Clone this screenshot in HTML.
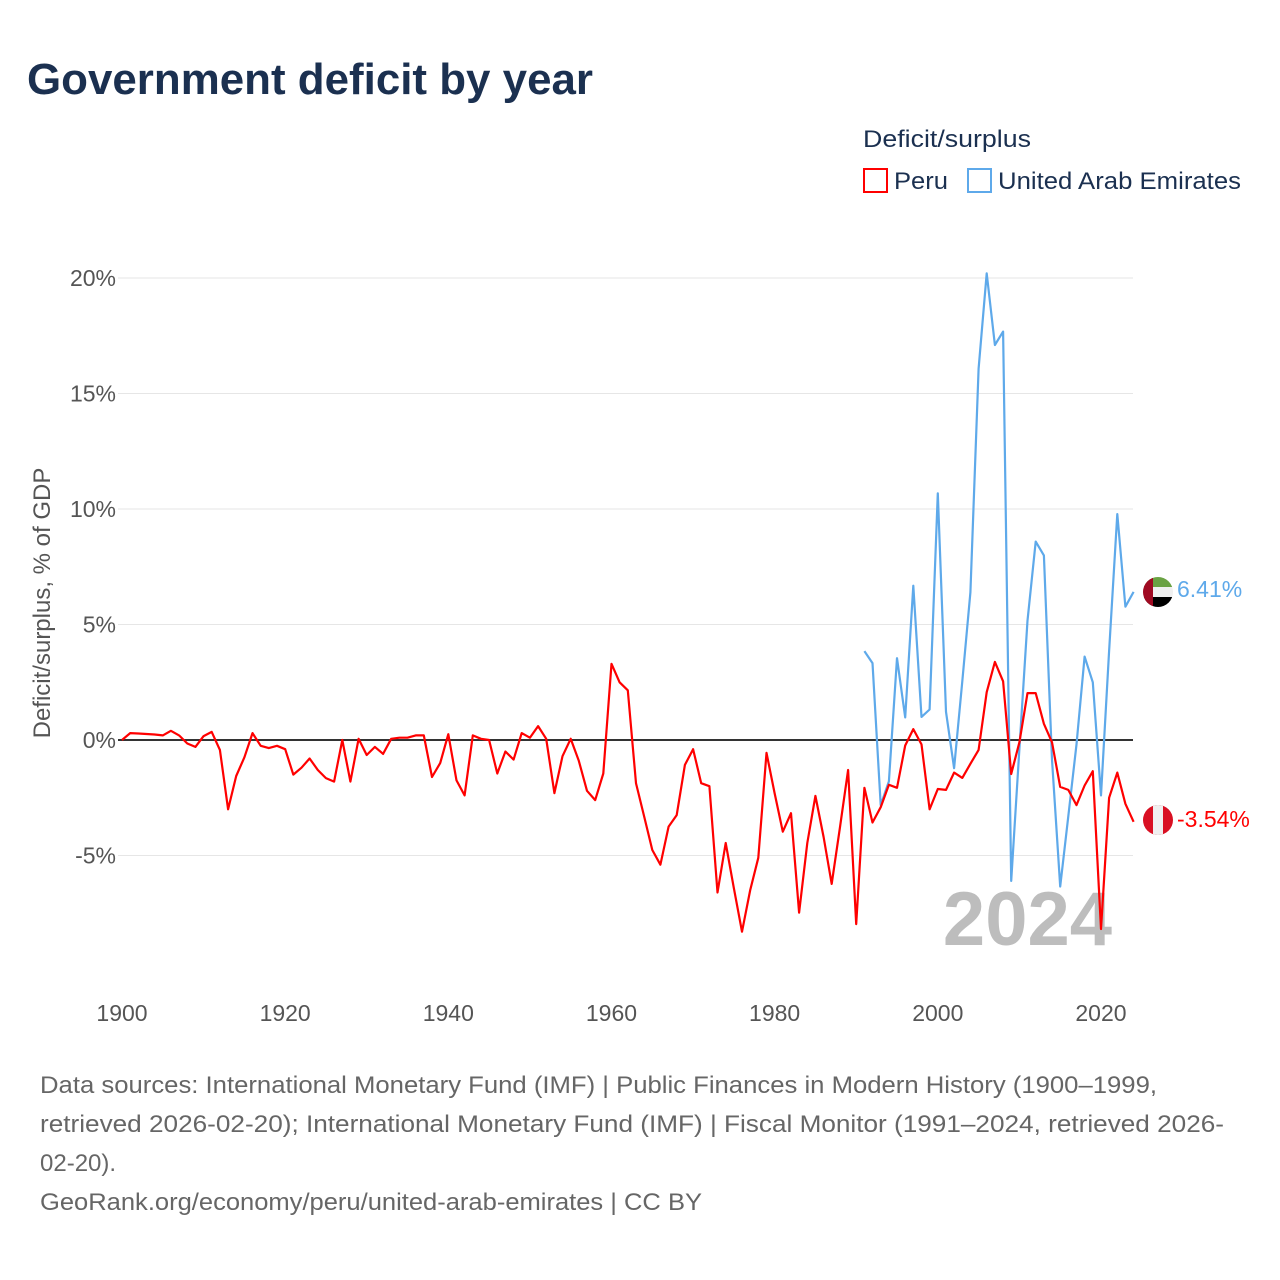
<!DOCTYPE html>
<html><head><meta charset="utf-8"><style>
html,body{margin:0;padding:0;background:#fff}
svg{display:block;font-family:"Liberation Sans",sans-serif}
</style></head><body>
<svg id="chart" width="1280" height="1280" viewBox="0 0 1280 1280">
<text x="27" y="94" font-size="44" font-weight="bold" fill="#1b3050" textLength="566" lengthAdjust="spacingAndGlyphs">Government deficit by year</text>
<text x="863" y="147" font-size="24" fill="#1b3050" textLength="168" lengthAdjust="spacingAndGlyphs">Deficit/surplus</text>
<g><rect x="864" y="169" width="23" height="23" fill="#fff" stroke="#ff0000" stroke-width="2"/><text x="894" y="189" font-size="24" fill="#1b3050" textLength="54" lengthAdjust="spacingAndGlyphs">Peru</text></g>
<g><rect x="968" y="169" width="23" height="23" fill="#fff" stroke="#5ea9ea" stroke-width="2"/><text x="998" y="189" font-size="24" fill="#1b3050" textLength="243" lengthAdjust="spacingAndGlyphs">United Arab Emirates</text></g>
<g id="grid"></g>
<g id="yticks"></g>
<g id="xticks"></g>
<text transform="translate(50,603) rotate(-90)" text-anchor="middle" font-size="24" fill="#555">Deficit/surplus, % of GDP</text>
<text x="1112" y="945" text-anchor="end" font-size="76" font-weight="bold" fill="#bdbdbd">2024</text>
<g id="series"></g>
<g>
<clipPath id="c1"><circle cx="1158" cy="592" r="15"/></clipPath>
<g clip-path="url(#c1)"><rect x="1143" y="577" width="30" height="10" fill="#6aa243"/><rect x="1143" y="587" width="30" height="10" fill="#f0f0f0"/><rect x="1143" y="597" width="30" height="10" fill="#000"/><rect x="1143" y="577" width="10" height="30" fill="#a00a22"/></g></g>
<g>
<clipPath id="c2"><circle cx="1158" cy="820" r="15"/></clipPath>
<g clip-path="url(#c2)"><rect x="1143" y="805" width="30" height="30" fill="#d91023"/><rect x="1153" y="805" width="10" height="30" fill="#f0f0f0"/></g></g>
<text id="uaeLabel" x="1177" y="597" font-size="23" fill="#5ea9ea">6.41%</text>
<text id="peruLabel" x="1177" y="827" font-size="23" fill="#ff0000">-3.54%</text>
<g font-size="24" fill="#666">
<text x="40" y="1093" textLength="1117" lengthAdjust="spacingAndGlyphs">Data sources: International Monetary Fund (IMF) | Public Finances in Modern History (1900–1999,</text>
<text x="40" y="1132" textLength="1184" lengthAdjust="spacingAndGlyphs">retrieved 2026-02-20); International Monetary Fund (IMF) | Fiscal Monitor (1991–2024, retrieved 2026-</text>
<text x="40" y="1171">02-20).</text>
<text x="40" y="1210" textLength="662" lengthAdjust="spacingAndGlyphs">GeoRank.org/economy/peru/united-arab-emirates | CC BY</text>
</g>
</svg>
<script>
const peruStartYear = 1900;
const peruValues = [0.0,0.3,0.28,0.26,0.24,0.2,0.4,0.2,-0.15,-0.3,0.17,0.35,-0.43,-3.0,-1.56,-0.75,0.3,-0.25,-0.35,-0.25,-0.4,-1.5,-1.2,-0.8,-1.3,-1.65,-1.8,0.0,-1.8,0.05,-0.65,-0.3,-0.6,0.05,0.1,0.1,0.2,0.2,-1.6,-1.0,0.25,-1.75,-2.4,0.2,0.05,0.0,-1.45,-0.5,-0.85,0.3,0.1,0.6,0.05,-2.3,-0.7,0.05,-0.9,-2.2,-2.6,-1.45,3.3,2.5,2.15,-1.87,-3.3,-4.76,-5.4,-3.75,-3.25,-1.08,-0.4,-1.87,-2.0,-6.6,-4.46,-6.4,-8.3,-6.5,-5.1,-0.56,-2.3,-3.97,-3.17,-7.47,-4.46,-2.42,-4.2,-6.23,-3.8,-1.3,-7.97,-2.07,-3.57,-2.91,-1.94,-2.07,-0.24,0.47,-0.19,-3.0,-2.12,-2.16,-1.41,-1.64,-1.03,-0.43,2.07,3.38,2.54,-1.47,-0.1,2.03,2.03,0.7,-0.1,-2.03,-2.16,-2.82,-1.97,-1.35,-8.18,-2.5,-1.41,-2.76,-3.54];
const uaeStartYear = 1991;
const uaeValues = [3.85,3.33,-2.82,-1.79,3.54,0.98,6.68,1.0,1.32,10.68,1.22,-1.22,2.54,6.39,16.08,20.2,17.1,17.68,-6.1,-0.38,5.17,8.59,7.99,-0.85,-6.34,-3.3,-0.19,3.61,2.5,-2.4,3.85,9.78,5.77,6.41];
const yTicks = [20,15,10,5,0,-5];
const yTickLabels = ["20%","15%","10%","5%","0%","-5%"];
const xTicks = [1900,1920,1940,1960,1980,2000,2020];

const NS = "http://www.w3.org/2000/svg";
function xs(yr){ return 122 + (yr-1900)*8.158; }
function ys(v){ return 740 - v*23.1; }
function mk(tag, attrs, parent){ const e=document.createElementNS(NS,tag); for(const k in attrs) e.setAttribute(k,attrs[k]); parent.appendChild(e); return e; }
const grid=document.getElementById('grid'), yt=document.getElementById('yticks'), xt=document.getElementById('xticks'), ser=document.getElementById('series');
yTicks.forEach((v,i)=>{
  if(v!==0){
    const l=mk('line',{x1:118,x2:1133,y1:ys(v),y2:ys(v),stroke:'#e6e6e6','stroke-width':1},grid);
    
    
  }
  const t=mk('text',{x:116,y:ys(v)+8,'text-anchor':'end','font-size':23,fill:'#555'},yt);
  t.textContent=yTickLabels[i];
  
  
});
xTicks.forEach(yr=>{
  const t=mk('text',{x:xs(yr),y:1021,'text-anchor':'middle','font-size':23,fill:'#555'},xt);
  t.textContent=String(yr);
  
  
});
const zl=mk('line',{x1:118,x2:1133,y1:ys(0),y2:ys(0),stroke:'#333','stroke-width':2},grid);


function line(vals,start,color,name){
  const d=vals.map((v,i)=>(i?'L':'M')+xs(start+i).toFixed(1)+','+ys(v).toFixed(1)).join(' ');
  const p=mk('path',{d:d,fill:'none',stroke:color,'stroke-width':2.2,'stroke-linejoin':'round'},ser);
  
  
}
line(uaeValues,uaeStartYear,'#5ea9ea','uae-line');
line(peruValues,peruStartYear,'#ff0000','peru-line');
document.getElementById('uaeLabel').textContent=uaeValues[uaeValues.length-1].toFixed(2)+'%';
document.getElementById('peruLabel').textContent=peruValues[peruValues.length-1].toFixed(2)+'%';
</script>
</body></html>
